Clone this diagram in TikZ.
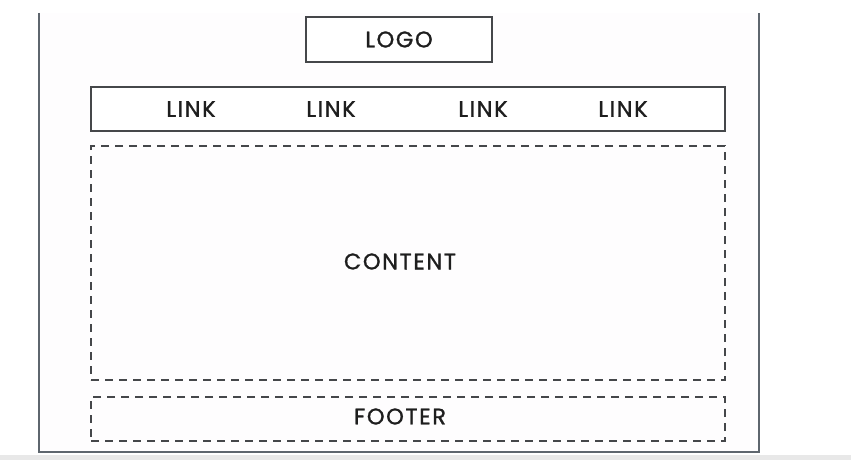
\documentclass[tikz,border=0pt]{standalone}
\usepackage{fontspec}
\setmainfont{Poppins}[LetterSpace=7,FakeBold=1.2]
\begin{document}
\begin{tikzpicture}[x=1pt,y=-1pt,
  frame/.style={draw=frameclr,line width=2pt},
  solidbox/.style={draw=boxclr,line width=2.4pt,fill=white},
  dashbox/.style={draw=boxclr,line width=2.6pt,dash pattern=on 8pt off 6pt},
  lbl/.style={font=\fontsize{22.5}{22.5}\selectfont,text=txtclr,inner sep=0pt,anchor=center}]
\definecolor{frameclr}{HTML}{5E666E}
\definecolor{boxclr}{HTML}{45474A}
\definecolor{txtclr}{HTML}{1E1E1E}
\definecolor{bgin}{HTML}{FEFDFE}
\definecolor{band}{HTML}{E8E8E8}
\useasboundingbox (0,0) rectangle (851,460);
\fill[white] (0,0) rectangle (851,460);
\fill[bgin] (39,13) rectangle (759,452);
\fill[band] (0,455) rectangle (851,460);
% outer frame (open at top)
\coordinate (ftl) at (39,13);
\coordinate (fbl) at (39,452);
\coordinate (fbr) at (759,452);
\coordinate (ftr) at (759,13);
\draw[frame] (ftl) -- (fbl) -- (fbr) -- (ftr);
% logo
\node[solidbox,minimum width=186pt,minimum height=45pt,inner sep=0pt] (logo) at (399,39.5) {};
\node[lbl] (logotxt) at (logo.center) {LOGO};
% link bar
\node[solidbox,minimum width=634pt,minimum height=44pt,inner sep=0pt] (nav) at (408,109) {};
\node[lbl] (l1) at (191,109) {LINK};
\node[lbl] (l2) at (331,109) {LINK};
\node[lbl] (l3) at (483,109) {LINK};
\node[lbl] (l4) at (623,109) {LINK};
% content
\node[dashbox,minimum width=634pt,minimum height=234pt,inner sep=0pt] (content) at (408,263) {};
\node[lbl] (ctxt) at (400,261.5) {CONTENT};
% footer
\node[dashbox,minimum width=634pt,minimum height=44pt,inner sep=0pt] (footer) at (408,419) {};
\node[lbl] (ftxt) at (400,416.5) {FOOTER};
\end{tikzpicture}
\end{document}
